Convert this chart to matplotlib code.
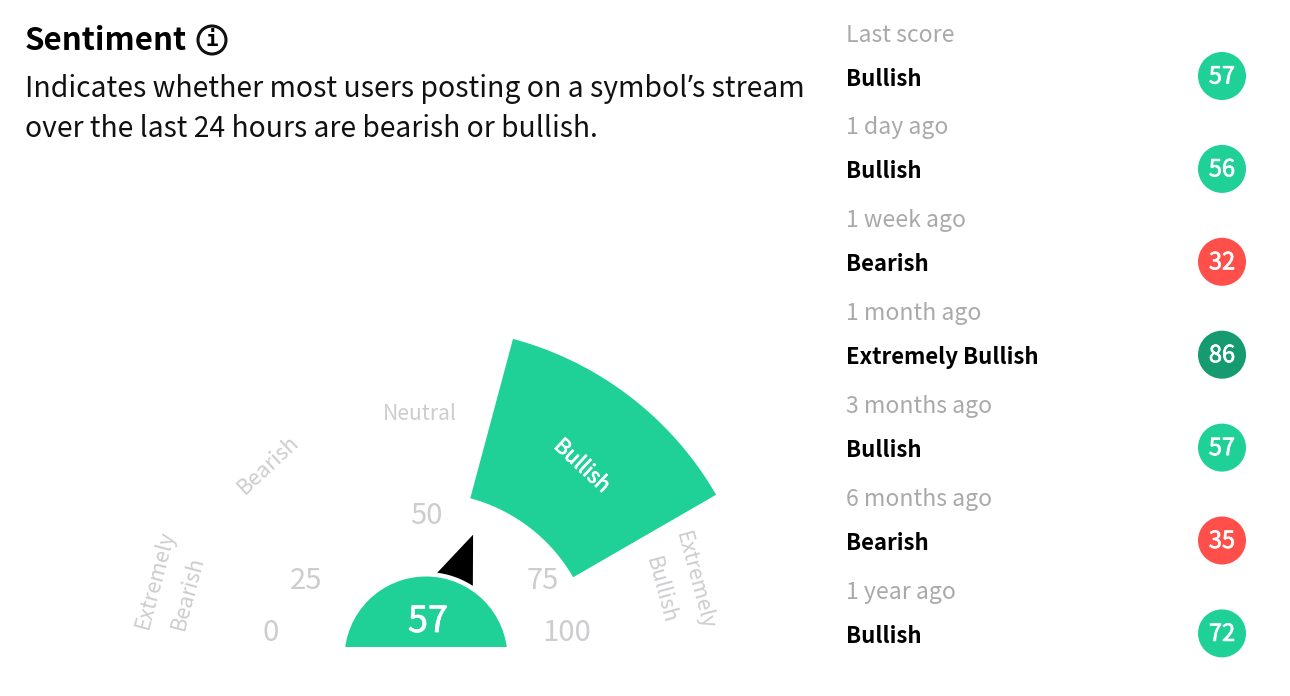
import numpy as np
import matplotlib
matplotlib.use("Agg")
import matplotlib.pyplot as plt
import matplotlib.patheffects as pe
from matplotlib.patches import Circle, Polygon, Rectangle

plt.rcParams["font.family"] = ["Noto Sans CJK SC", "DejaVu Sans"]

periods = ["Last score", "1 day ago", "1 week ago", "1 month ago", "3 months ago", "6 months ago", "1 year ago"]
moods = ["Bullish", "Bullish", "Bearish", "Extremely Bullish", "Bullish", "Bearish", "Bullish"]
scores = [57, 56, 32, 86, 57, 35, 72]

score = 57
gauge_ticks = ["0", "25", "50", "75", "100"]
band_labels = ["Extremely\nBearish", "Bearish", "Neutral", "Bullish", "Extremely\nBullish"]

GREEN = "#1fd196"
DARK = "#169a6f"
RED = "#ff4f4a"
mood_colors = {"Bullish": GREEN, "Extremely Bullish": DARK, "Bearish": RED}
CX, CY = 426, 658
# thin outline to fake the medium weight on white text
MEDIUM = [pe.withStroke(linewidth=0.5, foreground="white")]


def arc(r, a0, a1, cx=CX, cy=CY):
    # angles measured clockwise from straight up, pixel coords
    t = np.radians(np.linspace(a0, a1, 60))
    return np.column_stack([cx + r * np.sin(t), cy - r * np.cos(t)])


fig = plt.figure(figsize=(12.9, 6.96), dpi=100)
ax = fig.add_axes([0, 0, 1, 1])
ax.set_xlim(0, 1290)
ax.set_ylim(696, 0)
ax.axis("off")

# header
ax.text(25, 41, "Sentiment", fontsize=22.5, fontweight="bold", va="center", color="black")
ax.add_patch(Circle((212, 40), 14, fc="none", ec="#111111", lw=2.2))
ax.text(212, 40, "i", fontsize=15, family="DejaVu Sans Mono", fontweight="bold", ha="center", va="center")

# the CJK font has a full width apostrophe, so that glyph comes from Noto Sans
renderer = fig.canvas.get_renderer()
x = 25
for part, fam in [("Indicates whether most users posting on a symbol", "Noto Sans CJK SC"),
                  ("’", "Noto Sans"), ("s stream", "Noto Sans CJK SC")]:
    t = ax.text(x, 89, part, fontsize=20.45, family=fam, va="center", color="#111111")
    x = ax.transData.inverted().transform(t.get_window_extent(renderer))[1, 0]
ax.text(25, 129, "over the last 24 hours are bearish or bullish.", fontsize=20.3, va="center", color="#111111")

# history list
for i, (p, m, s) in enumerate(zip(periods, moods, scores)):
    y = 34 + 92.9 * i
    ax.text(846, y + 1, p, fontsize=16.6, color="#a9a9a9", va="center")
    ax.text(846, y + 45, m, fontsize=16, fontweight="bold", color="black", va="center")
    ax.add_patch(Circle((1222, 32.5 + 92.9 * i + 43.5), 24, fc=mood_colors[m], ec="none"))
    ax.text(1222, y + 43, str(s), fontsize=17, color="white", ha="center", va="center", path_effects=MEDIUM)

# gauge: active band
outer = arc(334.5, 15, 60, cx=426.4, cy=662)
inner = arc(169.5, 60, 15, cx=426.4, cy=662)
ax.add_patch(Polygon(np.vstack([outer, inner]), fc=GREEN, ec="none"))

# hub, cut off at the base line
hub = Circle((CX, CY), 81.5, fc=GREEN, ec="none")
ax.add_patch(hub)
hub.set_clip_path(Rectangle((300, 500), 260, 147, transform=ax.transData))

# needle
needle = np.vstack([arc(86, 33, 7.5), arc(132, 20.9, 20.9)[:1]])
ax.add_patch(Polygon(needle, fc="black", ec="none"))
ax.text(428, 622, str(score), fontsize=26, color="white", ha="center", va="center", path_effects=MEDIUM)

# tick labels
LIGHT = "#cdcdd0"
tick_pos = [(271, 633), (306, 581), (426, 516), (543, 581), (567, 633)]
for t, (x, y) in zip(gauge_ticks, tick_pos):
    ax.text(x, y, t, fontsize=21, color=LIGHT, ha="center", va="center")

# band labels
ax.text(155, 580, band_labels[0].split("\n")[0], fontsize=15.4, color=LIGHT, rotation=75, ha="center", va="center")
ax.text(188, 593, band_labels[0].split("\n")[1], fontsize=15.4, color=LIGHT, rotation=75, ha="center", va="center")
ax.text(268, 465, band_labels[1], fontsize=15.4, color=LIGHT, rotation=43, ha="center", va="center")
ax.text(420, 414, band_labels[2], fontsize=15.2, color=LIGHT, ha="center", va="center")
ax.text(582, 466, band_labels[3], fontsize=15.4, color="white", rotation=-43, ha="center", va="center", path_effects=MEDIUM)
ax.text(695, 581, band_labels[4].split("\n")[0], fontsize=15.4, color=LIGHT, rotation=-75, ha="center", va="center")
ax.text(661, 590, band_labels[4].split("\n")[1], fontsize=15.4, color=LIGHT, rotation=-75, ha="center", va="center")

fig.savefig("out.png", dpi=100)
plt.close(fig)
